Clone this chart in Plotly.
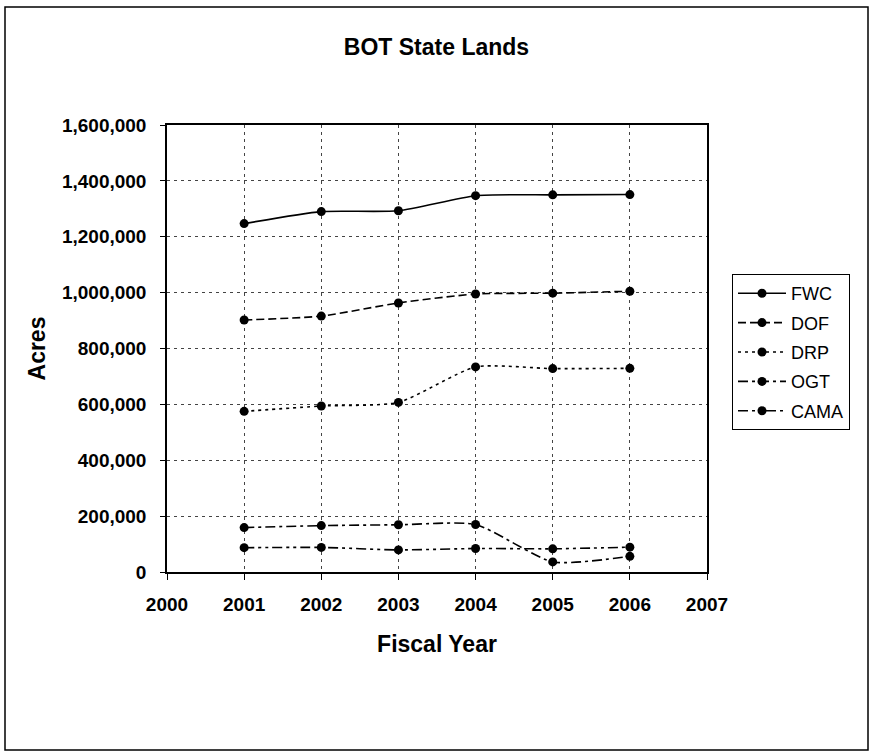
import plotly.graph_objects as go

years = [2001, 2002, 2003, 2004, 2005, 2006]
fwc = [1247000, 1290000, 1293000, 1347000, 1350000, 1351000]
dof = [902000, 916000, 963000, 995000, 998000, 1005000]
drp = [575000, 594000, 607000, 734000, 728000, 729000]
ogt = [159000, 166000, 169000, 170000, 36000, 56000]
cama = [87000, 88000, 79000, 84000, 83000, 89000]

series = [
    ("FWC", fwc, "solid"),
    ("DOF", dof, "8px,4px"),
    ("DRP", drp, "3px,4px"),
    ("OGT", ogt, "10px,4px,3px,4px"),
    ("CAMA", cama, "10px,4px,3px,4px,3px,4px"),
]

FONT = "Arial, 'Liberation Sans', sans-serif"

fig = go.Figure()
for name, vals, dash in series:
    fig.add_trace(go.Scatter(
        x=years, y=vals, name=name, legendgroup=name,
        mode="lines+markers",
        line=dict(color="black", width=1.6, dash=dash, shape="spline", smoothing=0.6),
        marker=dict(color="black", size=9, symbol="circle"),
    ))

L, R, T, B = 167, 707, 125, 572
W, H = 873, 752
pw, ph = R - L, B - T

def px_x(x):
    return (x - L) / pw

def px_y(y):
    return (B - y) / ph

fig.update_layout(
    width=W, height=H,
    margin=dict(l=L, r=W - R, t=T, b=H - B, pad=0),
    paper_bgcolor="white", plot_bgcolor="white",
    font=dict(family=FONT, color="black"),
    title=dict(text="BOT State Lands", x=0.5, xanchor="center", y=1 - 47 / H, yanchor="middle",
               font=dict(size=23, weight="bold", family=FONT, color="black")),
    showlegend=True,
    legend=dict(x=px_x(732), y=px_y(274), xanchor="left", yanchor="top",
                bordercolor="black", borderwidth=1, bgcolor="white",
                font=dict(size=18, family=FONT, color="black"),
                tracegroupgap=3, itemwidth=48),
    xaxis=dict(range=[2000, 2007], dtick=1, tick0=2000, showline=True, linecolor="black", linewidth=1.5,
               mirror=True, ticks="outside", ticklen=6, tickcolor="black",
               ticklabelstandoff=8,
               showgrid=True, gridcolor="#444", griddash="3px,4px", gridwidth=1,
               tickfont=dict(size=19, weight="bold", family=FONT, color="black"),
               title=dict(text="Fiscal Year", standoff=22,
                          font=dict(size=23, weight="bold", family=FONT, color="black")),
               zeroline=False),
    yaxis=dict(range=[0, 1600000], dtick=200000, tickformat=",", showline=True, linecolor="black",
               linewidth=1.5, mirror=True, ticks="outside", ticklen=5, tickcolor="black",
               ticklabelstandoff=10,
               showgrid=True, gridcolor="#444", griddash="3px,4px", gridwidth=1,
               tickfont=dict(size=19, weight="bold", family=FONT, color="black"),
               title=dict(text="Acres", standoff=10,
                          font=dict(size=23, weight="bold", family=FONT, color="black")),
               zeroline=False),
    shapes=[dict(type="rect", xref="paper", yref="paper",
                 x0=px_x(5), x1=px_x(868), y0=px_y(750), y1=px_y(7),
                 line=dict(color="black", width=1.5), fillcolor="rgba(0,0,0,0)", layer="below")],
)

fig.write_html("out.html")
